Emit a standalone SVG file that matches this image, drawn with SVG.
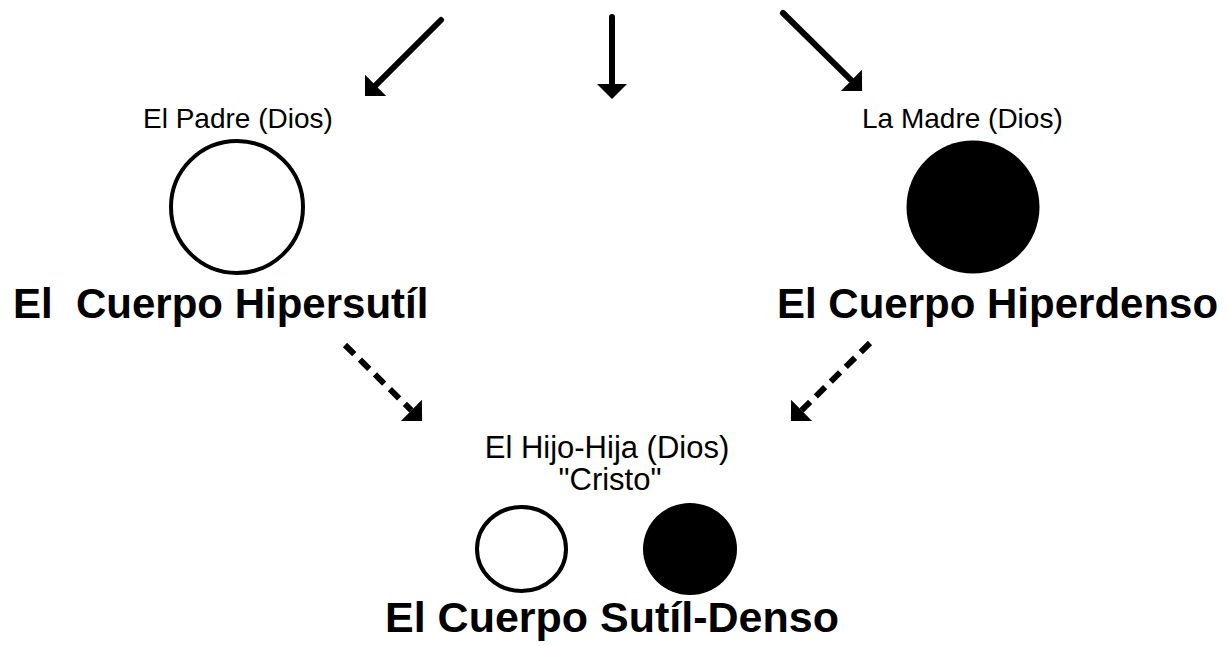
<svg xmlns="http://www.w3.org/2000/svg" width="1227" height="646" viewBox="0 0 1227 646">
  <style>
    .lbl { font-family: "Liberation Sans", Arial, sans-serif; fill: #000; }
    .big { font-family: "Liberation Sans", Arial, sans-serif; font-weight: bold; fill: #000; font-size: 42px; }
    .arr { stroke: #000; stroke-width: 6; fill: none; stroke-linecap: round; marker-end: url(#ah); }
    .dash { stroke-dasharray: 13 8; stroke-linecap: butt; }
  </style>
  <defs>
    <marker id="ah" markerUnits="userSpaceOnUse" markerWidth="17" markerHeight="32" viewBox="0 -16 17 32" refX="0" refY="0" orient="auto">
      <path d="M0,-15 L15,0 L0,15 z" fill="#000"/>
    </marker>
  </defs>
  <rect width="1227" height="646" fill="#fff"/>

  <g id="connectors">
    <line class="arr" x1="441" y1="20" x2="375.6" y2="85.4"/>
    <line class="arr" x1="612" y1="17" x2="612" y2="84"/>
    <line class="arr" x1="783" y1="13" x2="851.4" y2="80.4"/>
    <line class="arr dash" x1="345" y1="345" x2="411.4" y2="410.4"/>
    <line class="arr dash" x1="870" y1="343" x2="801.6" y2="410.4"/>
  </g>

  <g id="padre">
    <text class="lbl" x="143" y="128" font-size="28">El Padre (Dios)</text>
    <circle cx="237" cy="207" r="66" fill="#fff" stroke="#000" stroke-width="4"/>
    <text class="big" x="13" y="318" xml:space="preserve">El  Cuerpo Hipersutíl</text>
  </g>

  <g id="madre">
    <text class="lbl" x="862" y="128" font-size="28">La Madre (Dios)</text>
    <circle cx="973" cy="207" r="66.5" fill="#000"/>
    <text class="big" x="777" y="318">El Cuerpo Hiperdenso</text>
  </g>

  <g id="hijo">
    <text class="lbl" x="607" y="458" font-size="31" text-anchor="middle">El Hijo-Hija (Dios)</text>
    <text class="lbl" x="610" y="490" font-size="31" text-anchor="middle">"Cristo"</text>
    <ellipse cx="521.5" cy="549" rx="44.5" ry="42" fill="#fff" stroke="#000" stroke-width="4"/>
    <ellipse cx="690" cy="549" rx="47" ry="46" fill="#000"/>
    <text class="big" x="612" y="632" text-anchor="middle" style="font-size:43px">El Cuerpo Sutíl-Denso</text>
  </g>
</svg>
